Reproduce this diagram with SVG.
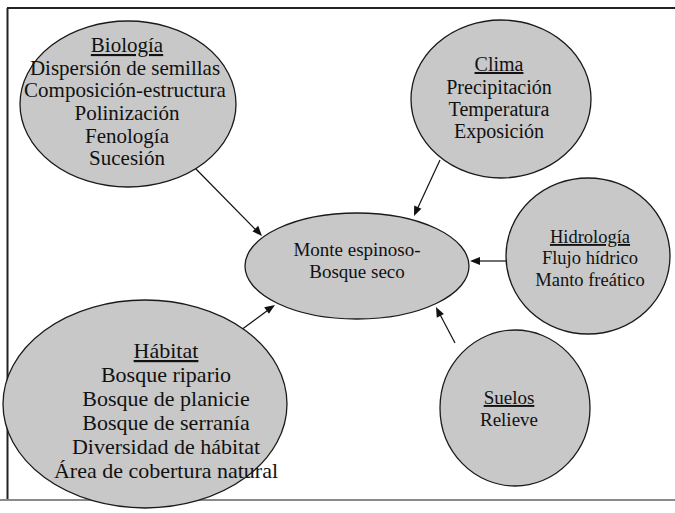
<svg xmlns="http://www.w3.org/2000/svg" width="675" height="513" viewBox="0 0 675 513">
  <rect width="675" height="513" fill="#ffffff"/>

  <!-- page frame -->
  <g id="frame" fill="none">
    <line x1="7" y1="8" x2="675" y2="8" stroke="#222" stroke-width="2"/>
    <line x1="7.5" y1="8" x2="7.5" y2="500" stroke="#222" stroke-width="2"/>
    <line x1="0" y1="500" x2="675" y2="500" stroke="#8a8a8a" stroke-width="2"/>
  </g>

  <!-- connectors: every factor points at the central forest type -->
  <g id="connectors" stroke="#111" stroke-width="1.2" fill="#111">
    <line x1="195" y1="168" x2="256" y2="230"/>
    <path d="M262,236 L252.5,231.4 L258.2,225.8 Z" stroke="none"/>
    <line x1="440" y1="160" x2="417.5" y2="208.5"/>
    <path d="M414,216 L414.2,205.4 L421.4,208.8 Z" stroke="none"/>
    <line x1="507" y1="261" x2="478" y2="261"/>
    <path d="M470,261 L480,257 L480,265 Z" stroke="none"/>
    <line x1="237" y1="333" x2="268.5" y2="309.8"/>
    <path d="M275,305 L268.9,313.7 L264.2,307.2 Z" stroke="none"/>
    <line x1="455" y1="343" x2="439.7" y2="314"/>
    <path d="M436,307 L443.9,314.1 L436.8,317.8 Z" stroke="none"/>
  </g>

  <!-- nodes share fill and outline through group attributes -->
  <g id="nodes" fill="#c8c8c8" stroke="#1a1a1a" stroke-width="1.3">
    <ellipse cx="128" cy="104" rx="108" ry="83"/>
    <ellipse cx="501" cy="99" rx="90" ry="79"/>
    <ellipse cx="357" cy="266" rx="112" ry="53"/>
    <ellipse cx="588" cy="256" rx="82" ry="78"/>
    <ellipse cx="145" cy="404" rx="142" ry="104"/>
    <ellipse cx="515" cy="408" rx="75" ry="78"/>
  </g>

  <g id="labels" fill="#111" text-anchor="middle">
    <g id="biologia" font-size="21">
      <text font-family="Liberation Serif" text-decoration="underline" x="127" y="52">Biología</text>
      <text font-family="Liberation Serif" x="125" y="75">Dispersión de semillas</text>
      <text font-family="Liberation Serif" x="125" y="97">Composición-estructura</text>
      <text font-family="Liberation Serif" x="127" y="120">Polinización</text>
      <text font-family="Liberation Serif" x="127" y="143">Fenología</text>
      <text font-family="Liberation Serif" x="127" y="165">Sucesión</text>
    </g>

    <g id="clima" font-size="20">
      <text font-family="Liberation Serif" text-decoration="underline" x="499" y="71">Clima</text>
      <text font-family="Liberation Serif" x="499" y="94">Precipitación</text>
      <text font-family="Liberation Serif" x="499" y="116">Temperatura</text>
      <text font-family="Liberation Serif" x="499" y="138">Exposición</text>
    </g>

    <g id="centro" font-size="19">
      <text font-family="Liberation Serif" x="357" y="256">Monte espinoso-</text>
      <text font-family="Liberation Serif" x="357" y="278">Bosque seco</text>
    </g>

    <g id="hidrologia" font-size="18.5">
      <text font-family="Liberation Serif" text-decoration="underline" x="590" y="243">Hidrología</text>
      <text font-family="Liberation Serif" x="590" y="264">Flujo hídrico</text>
      <text font-family="Liberation Serif" x="590" y="286">Manto freático</text>
    </g>

    <g id="habitat" font-size="22">
      <text font-family="Liberation Serif" text-decoration="underline" x="166" y="358">Hábitat</text>
      <text font-family="Liberation Serif" x="166" y="382">Bosque ripario</text>
      <text font-family="Liberation Serif" x="166" y="406">Bosque de planicie</text>
      <text font-family="Liberation Serif" x="166" y="430">Bosque de serranía</text>
      <text font-family="Liberation Serif" x="166" y="454">Diversidad de hábitat</text>
      <text font-family="Liberation Serif" x="166" y="478">Área de cobertura natural</text>
    </g>

    <g id="suelos" font-size="19">
      <text font-family="Liberation Serif" text-decoration="underline" x="509" y="404">Suelos</text>
      <text font-family="Liberation Serif" x="509" y="426">Relieve</text>
    </g>
  </g>
</svg>
